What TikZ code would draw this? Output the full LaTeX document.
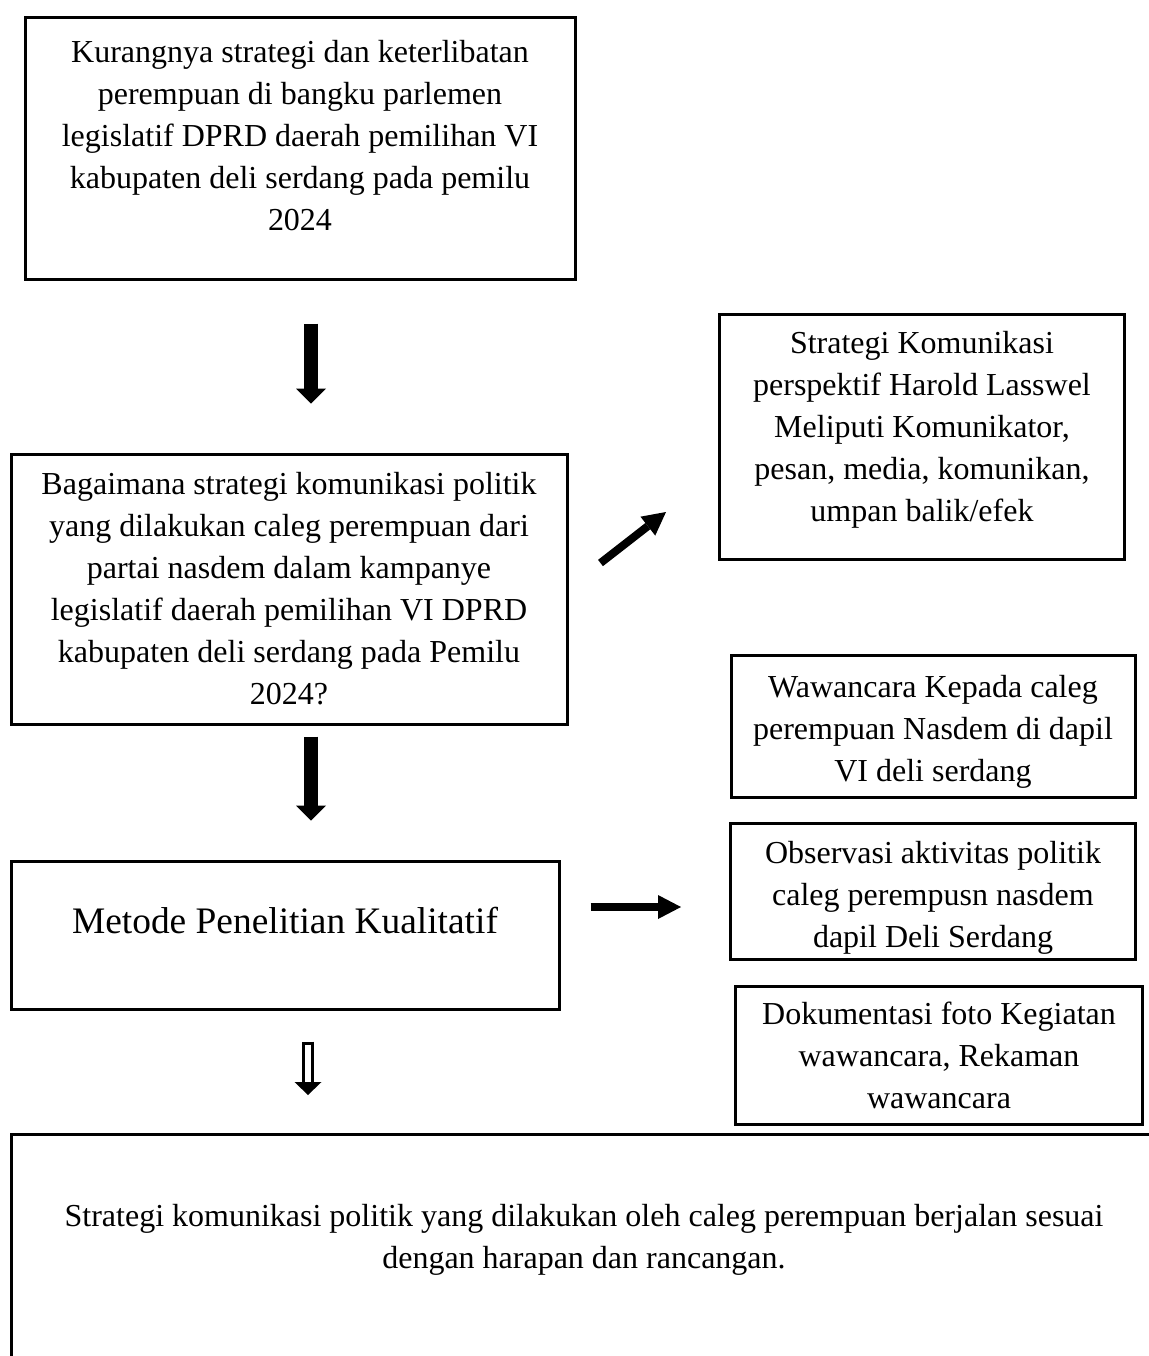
\documentclass[tikz,border=0pt]{standalone}
\usepackage{fontspec}
\setmainfont{Liberation Serif}
\usetikzlibrary{arrows.meta}

\begin{document}
\begin{tikzpicture}[
  x=0.5pt,y=-0.5pt,
  box/.style={draw,line width=1.5pt,align=center,inner sep=0pt,font=\fontsize{16pt}{21pt}\selectfont},
  fatarrow/.style={line width=6.7pt,-{Triangle[length=7.5pt,width=15pt,line width=0pt]}},
  slimarrow/.style={line width=4pt,-{Triangle[length=11.5pt,width=12pt,line width=0pt]}},
  hollowarrow/.style={line width=6pt,-{Triangle[length=6.5pt,width=13.5pt,line width=0pt]},
    postaction={draw=white,line width=2.6pt,-,shorten <=1.6pt,shorten >=6.5pt}}
]
\useasboundingbox (0,0) rectangle (1149,1356);
\clip (0,0) rectangle (1149,1356);

% LEFT column: problem, question, method
\node[box,minimum width=275pt,minimum height=131pt,text depth=13pt] (problem) at (300,148) {Kurangnya strategi dan keterlibatan \\ perempuan di bangku parlemen \\ legislatif DPRD daerah pemilihan VI \\ kabupaten deli serdang pada pemilu \\ 2024};
\node[box,minimum width=278pt,minimum height=135pt] (question) at (289,589) {Bagaimana strategi komunikasi politik \\ yang dilakukan caleg perempuan dari \\ partai nasdem dalam kampanye \\ legislatif daerah pemilihan VI DPRD \\ kabupaten deli serdang pada Pemilu \\ 2024?};
\node[box,minimum width=274pt,minimum height=74pt,text depth=15pt,font=\fontsize{18.7pt}{21pt}\selectfont] (method) at (285,935) {Metode Penelitian Kualitatif};

% RIGHT column: theory and data collection
\node[box,minimum width=202.5pt,minimum height=122.5pt,text depth=10.5pt] (theory) at (922,437) {Strategi Komunikasi \\ perspektif Harold Lasswel \\ Meliputi Komunikator, \\ pesan, media, komunikan, \\ umpan balik/efek};
\node[box,minimum width=202pt,minimum height=71pt,text height=59pt] (interview) at (933,726) {Wawancara Kepada caleg \\ perempuan Nasdem di dapil \\ VI deli serdang};
\node[box,minimum width=202.5pt,minimum height=68pt,text height=60pt] (observe) at (933,891) {Observasi aktivitas politik \\ caleg perempusn nasdem \\ dapil Deli Serdang};
\node[box,minimum width=203.5pt,minimum height=69pt] (docs) at (939,1055) {Dokumentasi foto Kegiatan \\ wawancara, Rekaman \\ wawancara};

% BOTTOM: result (runs past the page edge)
\node[box,minimum width=572.5pt,minimum height=114.5pt,text depth=12.5pt] (result) at (584,1249) {Strategi komunikasi politik yang dilakukan oleh caleg perempuan berjalan sesuai \\ dengan harapan dan rancangan.};

% arrows
\draw[fatarrow] ([shift={(11,43)}]problem.south) -- ([shift={(22,-49)}]question.north);
\draw[slimarrow] ([shift={(32,-26)}]question.east) -- ([shift={(-52,75)}]theory.west);
\draw[fatarrow] ([shift={(22,11)}]question.south) -- ([shift={(26,-39)}]method.north);
\draw[slimarrow] ([shift={(30,-28)}]method.east) -- ([shift={(-48,16)}]observe.west);
\draw[hollowarrow] ([shift={(23,31)}]method.south) -- ([shift={(-276,-38)}]result.north);

\end{tikzpicture}
\end{document}
